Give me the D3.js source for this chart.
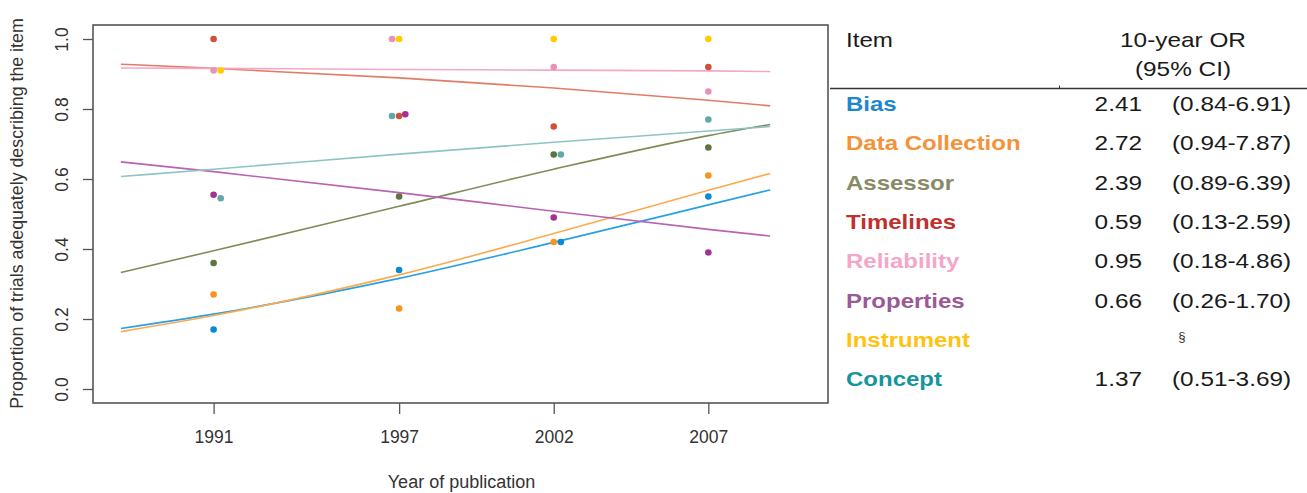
<!DOCTYPE html>
<html>
<head>
<meta charset="utf-8">
<script src="https://cdn.jsdelivr.net/npm/d3@7"></script>
<style>
  body { margin: 0; background: #fff; }
  svg { display: block; font-family: "Liberation Sans", Arial, sans-serif; }
</style>
</head>
<body>
<svg id="chart" width="1307" height="493"></svg>
<script>
// # DATA
// # ------------------------------
var items       = ["Bias", "Data Collection", "Assessor", "Timelines", "Reliability", "Properties", "Instrument", "Concept"];
var orValues    = ["2.41", "2.72", "2.39", "0.59", "0.95", "0.66", "", "1.37"];
var ciValues    = ["(0.84-6.91)", "(0.94-7.87)", "(0.89-6.39)", "(0.13-2.59)", "(0.18-4.86)", "(0.26-1.70)", "", "(0.51-3.69)"];
var yearTicks   = [1991, 1997, 2002, 2007];
var propTicks   = [0, 0.2, 0.4, 0.6, 0.8, 1.0];

// observed proportions (x = year of publication, slightly jittered like the original)
var biasYears   = [1991, 1997, 2002.23, 2007];
var biasProp    = [0.17, 0.34, 0.42, 0.55];
var dataYears   = [1991, 1997, 2002, 2007];
var dataProp    = [0.27, 0.23, 0.42, 0.61];
var assesYears  = [1991, 1997, 2002, 2007];
var assesProp   = [0.36, 0.55, 0.67, 0.69];
var timeYears   = [1991, 1997, 2002, 2007];
var timeProp    = [1.00, 0.78, 0.75, 0.92];
var reliYears   = [1991, 1996.77, 2002, 2007];
var reliProp    = [0.91, 1.00, 0.92, 0.85];
var propYears   = [1991, 1997.2, 2002, 2007];
var propProp    = [0.555, 0.785, 0.49, 0.39];
var instYears   = [1991.23, 1997, 2002, 2007];
var instProp    = [0.91, 1.00, 1.00, 1.00];
var concYears   = [1991.23, 1996.77, 2002.23, 2007];
var concProp    = [0.545, 0.78, 0.67, 0.77];

// fitted trend lines
var fitYears    = [1988, 1991, 1997, 2002, 2007, 2009];
var biasFit     = [0.173, 0.214, 0.316, 0.419, 0.526, 0.569];
var dataFit     = [0.164, 0.210, 0.326, 0.444, 0.568, 0.616];
var assesFit    = [0.333, 0.395, 0.522, 0.628, 0.724, 0.756];
var timeFit     = [0.928, 0.916, 0.889, 0.860, 0.825, 0.809];
var reliFit     = [0.917, 0.916, 0.913, 0.911, 0.909, 0.907];
var propFit     = [0.649, 0.621, 0.561, 0.508, 0.456, 0.437];
var concFit     = [0.607, 0.628, 0.671, 0.705, 0.737, 0.750];

var textColors  = ["#1f88c9", "#f4923a", "#888b66", "#c0302e", "#f4a6c8", "#9b5995", "#ffc20e", "#16959b"];
var dotColors   = ["#0a8ad3", "#f7931e", "#5e7340", "#d1503a", "#e891b9", "#a3338f", "#ffcc00", "#62a8a8"];
var lineColors  = ["#29a0e4", "#fbab4e", "#7f8c57", "#e27c66", "#f2a9c8", "#bb62b2", null, "#8ec4c6"];

var pointYears  = [biasYears, dataYears, assesYears, timeYears, reliYears, propYears, instYears, concYears];
var pointProps  = [biasProp, dataProp, assesProp, timeProp, reliProp, propProp, instProp, concProp];
var fitProps    = [biasFit, dataFit, assesFit, timeFit, reliFit, propFit, null, concFit];

// # LAYOUT
// # ------------------------------
var svg = d3.select("#chart");
var box = {left: 93, right: 828, top: 25, bottom: 403};

var x = d3.scaleLinear().domain([1987.1, 2010.87]).range([box.left, box.right]);
var y = d3.scaleLinear().domain([-0.04, 1.04]).range([box.bottom, box.top]);

// ## axes
// # ------------------------------
var xAxis = svg.append("g")
    .attr("transform", "translate(0," + box.bottom + ")")
    .call(d3.axisBottom(x).tickValues(yearTicks).tickFormat(d3.format("d")).tickSize(11));

var yAxis = svg.append("g")
    .attr("transform", "translate(" + box.left + ",0)")
    .call(d3.axisLeft(y).tickValues(propTicks).tickFormat(d3.format(".1f")).tickSize(10));

[xAxis, yAxis].forEach(function(a) {
  a.select(".domain").remove();
  a.selectAll(".tick line").attr("stroke", "#555").attr("stroke-width", 1.3);
  a.selectAll(".tick text").attr("fill", "#333").style("font-size", "17.5px")
    .style("font-family", "'Liberation Sans', Arial, sans-serif");
});

xAxis.selectAll(".tick text").attr("y", 40).attr("dy", 0);

yAxis.selectAll(".tick text")
    .attr("transform", "rotate(-90)")
    .attr("text-anchor", "middle")
    .attr("x", 0)
    .attr("y", -25)
    .attr("dy", 0);

// ## box
// # ------------------------------
svg.append("rect")
    .attr("x", box.left).attr("y", box.top)
    .attr("width", box.right - box.left).attr("height", box.bottom - box.top)
    .attr("fill", "none").attr("stroke", "#555").attr("stroke-width", 1.6);

// ## axis titles
// # ------------------------------
svg.append("text")
    .attr("x", (box.left + box.right) / 2 + 1).attr("y", 488)
    .attr("text-anchor", "middle").attr("fill", "#333")
    .style("font-size", "18px")
    .text("Year of publication");

svg.append("text")
    .attr("transform", "translate(23,213.5) rotate(-90)")
    .attr("text-anchor", "middle").attr("fill", "#333")
    .style("font-size", "17.8px")
    .text("Proportion of trials adequately describing the item");

// ## trend lines
// # ------------------------------
var line = d3.line()
    .x(function(d) { return x(d[0]); })
    .y(function(d) { return y(d[1]); })
    .curve(d3.curveMonotoneX);

for (var i = 0; i < items.length; i++) {
  if (!fitProps[i]) continue;
  var pts = fitYears.map(function(yr, j) { return [yr, fitProps[i][j]]; });
  svg.append("path")
      .datum(pts)
      .attr("d", line)
      .attr("fill", "none")
      .attr("stroke", lineColors[i])
      .attr("stroke-width", 1.6);
}

// ## points
// # ------------------------------
for (var i = 0; i < items.length; i++) {
  var pts = pointYears[i].map(function(yr, j) { return [yr, pointProps[i][j]]; });
  svg.append("g").selectAll("circle")
      .data(pts)
      .enter().append("circle")
      .attr("cx", function(d) { return x(d[0]); })
      .attr("cy", function(d) { return y(d[1]); })
      .attr("r", 3.3)
      .attr("fill", dotColors[i]);
}

// # TABLE
// # ------------------------------
var table = svg.append("g");

var stretch_text = function(txt, px, py, size, sx, anchor, weight, color) {
  return table.append("text")
      .attr("transform", "translate(" + px + "," + py + ") scale(" + sx + ",1)")
      .attr("text-anchor", anchor)
      .attr("fill", color)
      .style("font-size", size + "px")
      .style("font-weight", weight)
      .text(txt);
};

stretch_text("Item", 846, 47, 21, 1.15, "start", "normal", "#1a1a1a");
stretch_text("10-year OR", 1183, 47, 21, 1.16, "middle", "normal", "#1a1a1a");
stretch_text("(95% CI)", 1183, 75.5, 21, 1.16, "middle", "normal", "#1a1a1a");

table.append("line")
    .attr("x1", 830).attr("x2", 1307).attr("y1", 88.5).attr("y2", 88.5)
    .attr("stroke", "#333").attr("stroke-width", 1.5);
table.append("line")
    .attr("x1", 1059.5).attr("x2", 1059.5).attr("y1", 85.5).attr("y2", 88.5)
    .attr("stroke", "#333").attr("stroke-width", 1);

for (var i = 0; i < items.length; i++) {
  var by = 111 + i * 39.3;
  stretch_text(items[i], 846, by, 20, 1.2, "start", "bold", textColors[i]);
  if (orValues[i] !== "") {
    stretch_text(orValues[i], 1142, by, 20.3, 1.2, "end", "normal", "#1a1a1a");
    stretch_text(ciValues[i], 1172, by, 20.3, 1.2, "start", "normal", "#1a1a1a");
  } else {
    stretch_text("§", 1182, by - 6, 12, 1.1, "middle", "normal", "#333");
  }
}
</script>
</body>
</html>
